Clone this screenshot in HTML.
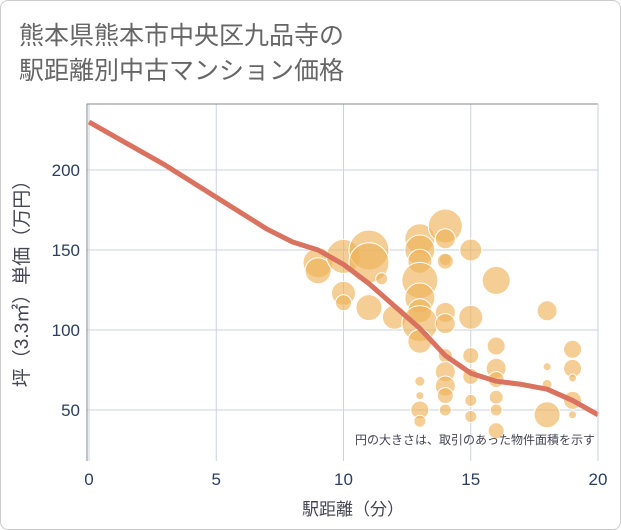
<!DOCTYPE html>
<html><head><meta charset="utf-8"><style>
body{margin:0;background:#fff;}
#wrap{position:relative;width:619px;height:528px;border:1px solid #ccc;border-radius:8px;overflow:hidden;font-family:"Liberation Sans","Noto Sans CJK JP",sans-serif;}
</style></head><body>
<div id="wrap">
<svg id="chart" width="621" height="530">
<text x="18" y="43" font-size="25" fill="#666" font-family="Liberation Sans, Noto Sans CJK JP, sans-serif">熊本県熊本市中央区九品寺の</text>
<text x="18" y="78" font-size="25" fill="#666" font-family="Liberation Sans, Noto Sans CJK JP, sans-serif">駅距離別中古マンション価格</text>
<g id="grid"></g><g id="bubbles"></g><g id="line"></g><g id="axes"></g>
<text x="594" y="443" font-size="12" fill="#445" text-anchor="end" font-family="Liberation Sans, Noto Sans CJK JP, sans-serif">円の大きさは、取引のあった物件面積を示す</text>
<text x="352" y="514" font-size="17" fill="#445" text-anchor="middle" font-family="Liberation Sans, Noto Sans CJK JP, sans-serif">駅距離（分）</text>
<text transform="translate(27,278) rotate(-90)" font-size="19" fill="#445" text-anchor="middle" font-family="Liberation Sans, Noto Sans CJK JP, sans-serif">坪（3.3㎡）単価（万円）</text>
</svg>
</div>
<script>
const xTicks=[0,5,10,15,20];
const yTicks=[50,100,150,200];
const bubX=[9,9,10,10,10,11,11,11,11.5,12,13,13,13,13,13,13,13,13,13,13,13,13,14,14,14,14,14,14,14,14,14,14,14,15,15,15,15,15,15,16,16,16,16,16,16,16,18,18,18,18,19,19,19,19,19];
const bubY=[142,137,146,123,117,150,142,114,132,108,157,150,143,131,120,112,104,93,68,59,50,43,165,157,144,143,111,104,84,74,65,59,50,150,108,84,71,56,46,131,90,76,69,58,50,37,112,77,66,47,88,76,70,56,47];
const bubR=[15,13,17,12,8,20,20,13,6,12,15,15,12,18,15,12,18,12,5,4,9,6,17,10,6,8,10,10,7,10,10,8,6,11,12,8,8,6,6,14,9,10,8,7,6,8,10,4,5,13,9,9,4,9,4];
const lineX=[0,1,2,3,4,5,6,7,8,9,10,11,12,13,14,15,16,17,18,19,20];
const lineY=[230,221,212,203,193,183,173,163,155,150,141,129,115,101,84,73,68,66,63,56,47];
const L=86,R=597,T=103,B=460;
const X=v=>88+v*(597-88)/20;
const Y=v=>169+(200-v)*1.6;
const NS='http://www.w3.org/2000/svg';
function mk(tag,parent){const e=document.createElementNS(NS,tag);document.getElementById(parent).appendChild(e);return e;}
xTicks.forEach(t=>{
 const l=mk('line','grid');l.setAttribute('x1',X(t));l.setAttribute('x2',X(t));l.setAttribute('y1',T);l.setAttribute('y2',B);l.setAttribute('stroke','#c9d3e2');
 
 
 const s=mk('text','axes');s.setAttribute('x',X(t));s.setAttribute('y',484);s.setAttribute('text-anchor','middle');s.setAttribute('font-size','17');s.setAttribute('fill','#2a3f5f');s.textContent=t;
 
 
});
yTicks.forEach(t=>{
 const l=mk('line','grid');l.setAttribute('x1',L);l.setAttribute('x2',R);l.setAttribute('y1',Y(t));l.setAttribute('y2',Y(t));l.setAttribute('stroke','#c9d3e2');
 
 
 const s=mk('text','axes');s.setAttribute('x',79);s.setAttribute('y',Y(t)+6);s.setAttribute('text-anchor','end');s.setAttribute('font-size','17');s.setAttribute('fill','#2a3f5f');s.textContent=t;
 
 
});
const fr=mk('path','axes');fr.setAttribute('d',`M${L},${B}V${T}H${R}`);fr.setAttribute('fill','none');fr.setAttribute('stroke','#888');


const rl=mk('line','axes');rl.setAttribute('x1',R);rl.setAttribute('x2',R);rl.setAttribute('y1',T);rl.setAttribute('y2',B);rl.setAttribute('stroke','#c9d3e2');


bubX.forEach((x,i)=>{
 const c=mk('circle','bubbles');c.setAttribute('cx',X(x));c.setAttribute('cy',Y(bubY[i]));c.setAttribute('r',bubR[i]);
 c.setAttribute('fill','rgba(238,180,90,0.65)');c.setAttribute('stroke','#fff');c.setAttribute('stroke-width','1');
 
 
});
const p=mk('polyline','line');p.setAttribute('points',lineX.map((x,i)=>X(x)+','+Y(lineY[i])).join(' '));
p.setAttribute('fill','none');p.setAttribute('stroke','#d9725e');p.setAttribute('stroke-width','5');p.setAttribute('stroke-linejoin','round');


</script>
</body></html>
